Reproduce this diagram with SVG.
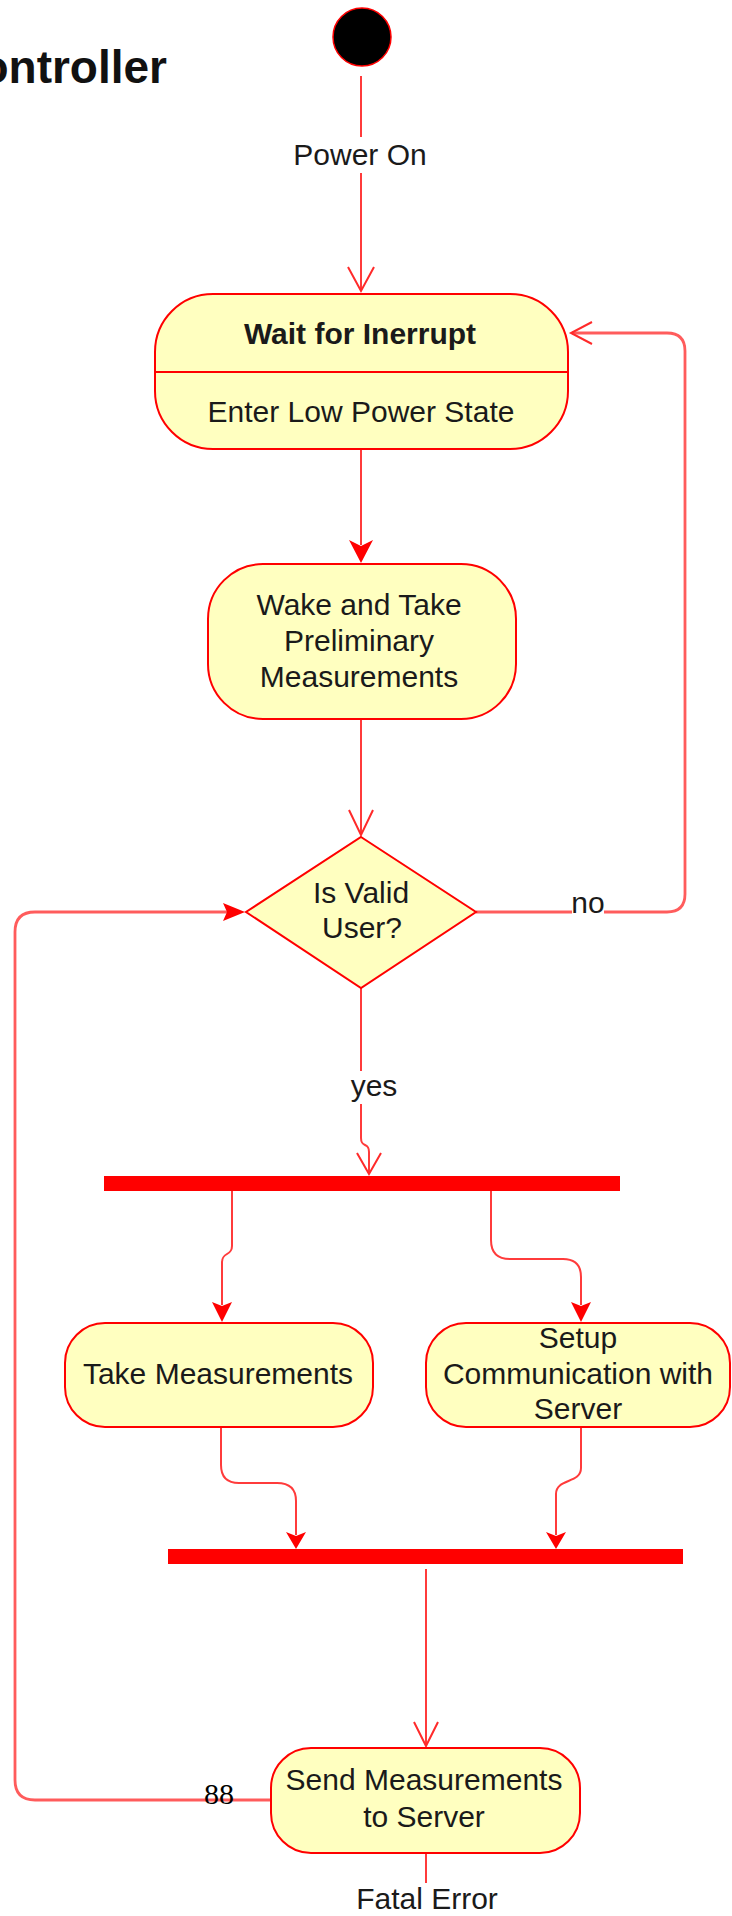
<svg xmlns="http://www.w3.org/2000/svg" width="732" height="1916" viewBox="0 0 732 1916">
  <style>
    .node { fill: #ffffc0; stroke: #ff0000; stroke-width: 2; }
    .bar { fill: #ff0000; stroke: none; }
    .edge { fill: none; stroke: #ff3b3b; stroke-width: 2; }
    .loop { fill: none; stroke: #ff5c5c; stroke-width: 2.8; }
    .open { fill: none; stroke: #ff2a2a; stroke-width: 2; stroke-linejoin: miter; }
    .head { fill: #ff0000; stroke: none; }
    .txt { font-family: "Liberation Sans", Arial, sans-serif; font-size: 30px; fill: #1a1a1a; text-anchor: middle; }
    .bold { font-weight: bold; }
    .serif { font-family: "Liberation Serif", "Times New Roman", serif; font-size: 30px; fill: #000; text-anchor: middle; }
    .lblbg { fill: #ffffff; }
  </style>

  <!-- page title, partly off the left edge -->
  <text x="167" y="83" font-family="Liberation Sans, Arial, sans-serif" font-size="46" font-weight="bold" fill="#111" text-anchor="end">ontroller</text>

  <!-- connectors -->
  <g id="edges">
    <!-- start -> wait -->
    <path class="edge" d="M361,76 V137"/>
    <path class="edge" d="M361,173 V291"/>
    <path class="open" d="M348,267 L361,291 L374,267"/>
    <text class="txt" x="360" y="165">Power On</text>

    <!-- wait -> wake -->
    <path class="edge" d="M361,449 V545"/>
    <path class="head" d="M349,540 L361,563 L373,540 L361,546 Z"/>

    <!-- wake -> decision -->
    <path class="edge" d="M361,719 V835"/>
    <path class="open" d="M349,810 L361,835 L373,810"/>

    <!-- decision -> wait (no) -->
    <path class="loop" d="M476,912 H667 Q685,912 685,894 V351 Q685,333 667,333 H572"/>
    <path class="open" d="M592,322 L571,333 L592,344"/>
    <rect class="lblbg" x="572" y="896" width="32" height="19"/>
    <text class="txt" x="588" y="913">no</text>

    <!-- decision -> fork (yes) -->
    <path class="edge" d="M361,988 V1138 C361,1148 369,1142 369,1152 V1173"/>
    <path class="open" d="M357,1153 L369,1174 L381,1153"/>
    <rect class="lblbg" x="350" y="1071" width="48" height="33"/>
    <text class="txt" x="374" y="1096">yes</text>

    <!-- fork -> take measurements -->
    <path class="edge" d="M232,1191 V1246 C232,1256 222,1252 222,1262 V1305"/>
    <path class="head" d="M212,1302 L222,1322 L232,1302 L222,1306 Z"/>

    <!-- fork -> setup communication -->
    <path class="edge" d="M491,1191 V1240 Q491,1259 510,1259 H563 Q581,1259 581,1277 V1305"/>
    <path class="head" d="M571,1302 L581,1322 L591,1302 L581,1306 Z"/>

    <!-- take measurements -> join -->
    <path class="edge" d="M221,1427 V1465 Q221,1483 239,1483 H277 Q296,1483 296,1501 V1535"/>
    <path class="head" d="M286,1532 L296,1549 L306,1532 L296,1536 Z"/>

    <!-- setup communication -> join -->
    <path class="edge" d="M581,1427 V1468 C581,1484 556,1478 556,1494 V1535"/>
    <path class="head" d="M546,1532 L556,1549 L566,1532 L556,1536 Z"/>

    <!-- join -> send -->
    <path class="edge" d="M426,1569 V1745"/>
    <path class="open" d="M414,1722 L426,1746 L438,1722"/>

    <!-- send -> decision (retry loop) -->
    <path class="loop" d="M271,1800 H35 Q15,1800 15,1780 V932 Q15,912 35,912 H228"/>
    <path class="head" d="M223,903 L245,912 L223,921 L227,912 Z"/>
    <text class="serif" x="219" y="1804">88</text>

    <!-- send -> (fatal error) -->
    <path class="edge" d="M426,1853 V1883"/>
    <text class="txt" x="427" y="1909">Fatal Error</text>
  </g>

  <!-- initial node -->
  <g id="start">
    <circle cx="362" cy="37" r="29" fill="#000" stroke="#ff0000" stroke-width="1.5"/>
  </g>

  <!-- wait state with entry activity -->
  <g id="wait">
    <rect class="node" x="155" y="294" width="413" height="155" rx="58" ry="58"/>
    <line x1="155" y1="372" x2="568" y2="372" stroke="#ff0000" stroke-width="2"/>
    <text class="txt bold" x="360" y="344">Wait for Inerrupt</text>
    <text class="txt" x="361" y="422">Enter Low Power State</text>
  </g>

  <g id="wake">
    <rect class="node" x="208" y="564" width="308" height="155" rx="55" ry="55"/>
    <text class="txt" x="359" y="615">Wake and Take</text>
    <text class="txt" x="359" y="651">Preliminary</text>
    <text class="txt" x="359" y="687">Measurements</text>
  </g>

  <g id="decision">
    <polygon class="node" points="361,837 476,912 361,988 246,912"/>
    <text class="txt" x="361" y="903">Is Valid</text>
    <text class="txt" x="362" y="938">User?</text>
  </g>

  <g id="fork">
    <rect class="bar" x="104" y="1176" width="516" height="15"/>
  </g>

  <g id="take">
    <rect class="node" x="65" y="1323" width="308" height="104" rx="40" ry="40"/>
    <text class="txt" x="218" y="1384">Take Measurements</text>
  </g>

  <g id="setup">
    <rect class="node" x="426" y="1323" width="304" height="104" rx="40" ry="40"/>
    <text class="txt" x="578" y="1348">Setup</text>
    <text class="txt" x="578" y="1384">Communication with</text>
    <text class="txt" x="578" y="1419">Server</text>
  </g>

  <g id="join">
    <rect class="bar" x="168" y="1549" width="515" height="15"/>
  </g>

  <g id="send">
    <rect class="node" x="271" y="1748" width="309" height="105" rx="40" ry="40"/>
    <text class="txt" x="424" y="1790">Send Measurements</text>
    <text class="txt" x="424" y="1827">to Server</text>
  </g>
</svg>
